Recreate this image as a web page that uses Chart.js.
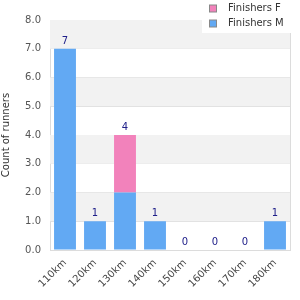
<!DOCTYPE html>
<html>
<head>
<meta charset="utf-8">
<script src="https://cdn.jsdelivr.net/npm/chart.js@4/dist/chart.umd.min.js"></script>
<style>
  html, body { margin: 0; padding: 0; background: #fff; }
  #wrap { width: 300px; height: 300px; position: relative; }
</style>
</head>
<body>
<div id="wrap"><canvas id="chart"></canvas></div>
<script>
// distance categories and finisher counts
const distances = ['110km', '120km', '130km', '140km', '150km', '160km', '170km', '180km'];
const finishersM = [7, 1, 2, 1, 0, 0, 0, 1];
const finishersF = [0, 0, 2, 0, 0, 0, 0, 0];
const yTicks = [0, 1, 2, 3, 4, 5, 6, 7, 8];

const blue = '#62a9f3';
const pink = '#f282bb';
const font = 'DejaVu Sans';

// alternating grey bands behind the bars
const bandPlugin = {
    id: 'bands',
    beforeDatasetsDraw(chart) {
        const { ctx, chartArea, scales } = chart;
        const y = scales.y;
        ctx.save();
        ctx.fillStyle = '#f2f2f2';
        for (let v = 1; v < 8; v += 2) {
            const top = y.getPixelForValue(v + 1);
            const bottom = y.getPixelForValue(v);
            ctx.fillRect(chartArea.left, top, chartArea.right - chartArea.left, bottom - top);
        }
        ctx.restore();
    },
    afterDatasetsDraw(chart) {
        const { ctx, chartArea } = chart;
        ctx.save();
        ctx.strokeStyle = '#dcdcdc';
        ctx.lineWidth = 1;
        ctx.beginPath();
        ctx.moveTo(Math.round(chartArea.right) + 0.5, chartArea.top);
        ctx.lineTo(Math.round(chartArea.right) + 0.5, chartArea.bottom);
        ctx.stroke();
        ctx.restore();
    }
};

// totals above each stack
const totalsPlugin = {
    id: 'totals',
    afterDatasetsDraw(chart) {
        const { ctx, scales } = chart;
        ctx.save();
        ctx.font = '10px "' + font + '"';
        ctx.fillStyle = '#20208a';
        ctx.textAlign = 'center';
        ctx.textBaseline = 'alphabetic';
        distances.forEach((d, i) => {
            const total = finishersM[i] + finishersF[i];
            const x = scales.x.getPixelForValue(i);
            const y = scales.y.getPixelForValue(total);
            ctx.fillText(String(total), x, y - 5);
        });
        ctx.restore();
    }
};

// legend box in the top-right corner, drawn over the plot
const legendPlugin = {
    id: 'cornerLegend',
    afterDraw(chart) {
        const { ctx } = chart;
        const items = [
            { label: 'Finishers F', color: pink },
            { label: 'Finishers M', color: blue }
        ];
        ctx.save();
        ctx.fillStyle = '#ffffff';
        ctx.fillRect(202, 0, 98, 33);
        ctx.font = '10px "' + font + '"';
        ctx.textBaseline = 'middle';
        ctx.textAlign = 'left';
        items.forEach((item, i) => {
            const cy = 8.5 + i * 15;
            ctx.fillStyle = item.color;
            ctx.fillRect(209.5, cy - 3.5, 7, 7);
            ctx.strokeStyle = '#888888';
            ctx.lineWidth = 1;
            ctx.strokeRect(209.5, cy - 3.5, 7, 7);
            ctx.fillStyle = '#333333';
            ctx.fillText(item.label, 228, cy);
        });
        ctx.restore();
    }
};

new Chart(document.getElementById('chart'), {
    type: 'bar',
    data: {
        labels: distances,
        datasets: [
            { label: 'Finishers M', data: finishersM, backgroundColor: blue, borderWidth: 0 },
            { label: 'Finishers F', data: finishersF, backgroundColor: pink, borderWidth: 0 }
        ]
    },
    options: {
        responsive: true,
        maintainAspectRatio: false,
        animation: false,
        layout: { padding: { top: 20, right: 10, bottom: 0, left: 0 } },
        datasets: { bar: { categoryPercentage: 1, barPercentage: 0.73 } },
        plugins: {
            legend: { display: false },
            tooltip: { enabled: false }
        },
        scales: {
            x: {
                stacked: true,
                grid: { display: false, drawTicks: false },
                border: { color: '#dcdcdc' },
                ticks: {
                    color: '#444',
                    font: { family: font, size: 10 },
                    maxRotation: 45,
                    minRotation: 45,
                    padding: 7
                },
                afterFit(scale) { scale.height = 50; }
            },
            y: {
                stacked: true,
                min: 0,
                max: 8,
                afterBuildTicks(scale) { scale.ticks = yTicks.map(v => ({ value: v })); },
                grid: { color: '#dcdcdc', drawTicks: false },
                border: { color: '#dcdcdc' },
                ticks: {
                    color: '#555',
                    font: { family: font, size: 10 },
                    padding: 9,
                    callback: v => Number(v).toFixed(1)
                },
                title: {
                    display: true,
                    text: 'Count of runners',
                    color: '#333',
                    font: { family: font, size: 10 },
                    padding: { top: 0, bottom: 0 }
                },
                afterFit(scale) { scale.width = 50; }
            }
        }
    },
    plugins: [bandPlugin, totalsPlugin, legendPlugin]
});
</script>
</body>
</html>
